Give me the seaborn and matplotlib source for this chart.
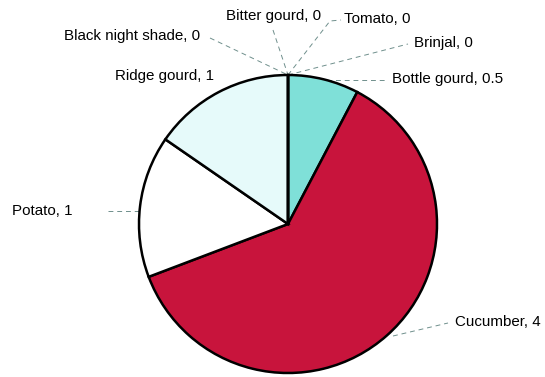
import matplotlib
matplotlib.use("Agg")
import matplotlib.pyplot as plt
import seaborn as sns
import numpy as np

categories = ["Tomato", "Brinjal", "Bottle gourd", "Cucumber", "Potato",
              "Ridge gourd", "Black night shade", "Bitter gourd"]
values = [0, 0, 0.5, 4, 1, 1, 0, 0]
colors = ["#ffffff", "#ffffff", "#7fe0d8", "#c8143c", "#ffffff",
          "#e6fafa", "#ffffff", "#ffffff"]

sns.set_style("white")
plt.rcParams['font.family'] = ['Liberation Sans', 'DejaVu Sans']

W, H = 545, 377
fig = plt.figure(figsize=(W / 100, H / 100), dpi=100)
ax = fig.add_axes([0, 0, 1, 1])

cx, cy, r = 288, H - 224, 149
wedges, _ = ax.pie(values, colors=colors, startangle=90, counterclock=False,
                   center=(cx, cy), radius=r, frame=True,
                   wedgeprops=dict(edgecolor="black", linewidth=1.8))
ax.set_xlim(0, W)
ax.set_ylim(0, H)
ax.set_aspect('equal')
ax.axis('off')

# label layout (pixel coords, y from top): text pos, line points
layout = {
    "Tomato": ((344, 19), [(288, 75), (330, 21), (341, 20)]),
    "Brinjal": ((414, 43), [(288, 75), (408, 44)]),
    "Bottle gourd": ((392, 79), [(318, 80), (386, 80)]),
    "Cucumber": ((455, 322), [(393, 336), (448, 323)]),
    "Potato": ((12, 211), [(108, 211), (143, 211)]),
    "Ridge gourd": ((115, 76), None),
    "Black night shade": ((64, 36), [(210, 38), (288, 75)]),
    "Bitter gourd": ((226, 16), [(273, 30), (288, 75)]),
}

for cat, val in zip(categories, values):
    (tx, ty), pts = layout[cat]
    lbl = f"{cat}, {val:g}"
    ax.text(tx, H - ty, lbl, ha="left", va="center", fontsize=10.9, color="black")
    if pts:
        xs = [p[0] for p in pts]
        ys = [H - p[1] for p in pts]
        ax.plot(xs, ys, color="#6f8f8c", lw=0.7, ls=(0, (5, 4)), zorder=0)

fig.savefig("out.png", dpi=100)
